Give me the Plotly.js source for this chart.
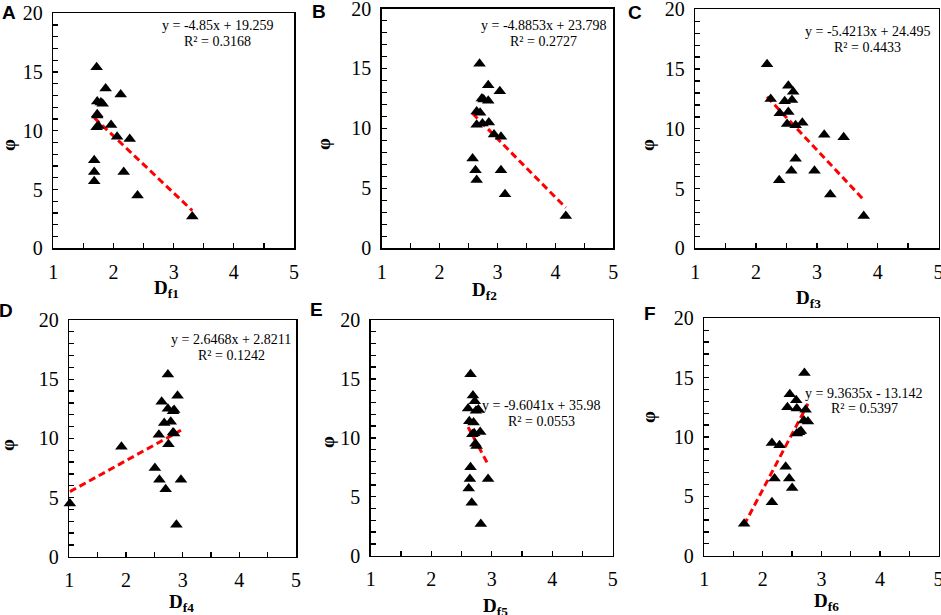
<!DOCTYPE html>
<html>
<head>
<meta charset="utf-8">
<script src="https://cdn.plot.ly/plotly-3.0.1.min.js"></script>
<style>
html,body{margin:0;padding:0;background:#fff;}
#chart{width:941px;height:615px;}
</style>
</head>
<body>
<div id="chart"></div>
<script>
// porosity values (shared by all panels)
var phi = [15.4, 13.6, 13.1, 12.5, 12.4, 12.3, 11.4, 11.3, 10.5, 10.4, 10.3, 9.5, 9.3, 7.5, 6.5, 6.5, 5.7, 4.5, 2.7];
// fractal dimensions for each panel
var df1 = [1.72, 1.87, 2.12, 1.73, 1.79, 1.82, 1.73, 1.73, 1.96, 1.75, 1.72, 2.06, 2.27, 1.68, 1.68, 2.17, 1.68, 2.40, 3.31];
var df2 = [2.69, 2.84, 3.04, 2.73, 2.76, 2.84, 2.64, 2.70, 2.85, 2.74, 2.64, 2.94, 3.06, 2.57, 2.62, 3.06, 2.64, 3.13, 4.18];
var df3 = [2.18, 2.53, 2.61, 2.24, 2.59, 2.47, 2.53, 2.39, 2.76, 2.51, 2.65, 3.12, 3.44, 2.65, 2.58, 2.96, 2.38, 3.22, 3.77];
var df4 = [2.74, 2.91, 2.63, 2.74, 2.85, 2.83, 2.79, 2.675, 2.83, 2.85, 2.58, 2.75, 1.92, 2.51, 2.59, 2.97, 2.70, 1.01, 2.89];
var df5 = [2.65, 2.69, 2.72, 2.61, 2.78, 2.74, 2.63, 2.70, 2.81, 2.71, 2.68, 2.73, 2.75, 2.65, 2.64, 2.94, 2.62, 2.67, 2.82];
var df6 = [2.71, 2.46, 2.57, 2.42, 2.58, 2.73, 2.70, 2.77, 2.65, 2.62, 2.58, 2.155, 2.285, 2.39, 2.20, 2.45, 2.50, 2.155, 1.68];
// linear fit coefficients and R^2 (as printed)
var slopes = [-4.85, -4.8853, -5.4213, 2.6468, -9.6041, 9.3635];
var intercepts = [19.259, 23.798, 24.495, 2.8211, 35.98, -13.142];
var r2 = ["0.3168", "0.2727", "0.4433", "0.1242", "0.0553", "0.5397"];
var panelLabels = ["A", "B", "C", "D", "E", "F"];
var xTitles = ["D<sub>f1</sub>", "D<sub>f2</sub>", "D<sub>f3</sub>", "D<sub>f4</sub>", "D<sub>f5</sub>", "D<sub>f6</sub>"];
var yTitle = "φ";

var dfs = [df1, df2, df3, df4, df5, df6];

// layout geometry (pixels)
var W = 941, H = 615;
var boxes = [ // [left, right, top, bottom]
  [53.3, 294, 13.3, 248.3],
  [381.7, 613.3, 8.5, 248.3],
  [695.3, 938.5, 9.3, 248.3],
  [69.3, 296, 320, 556.7],
  [370.7, 612.7, 320, 555.7],
  [704.3, 938.5, 318.3, 555.7]
];
var eqPos = [ // [cx, y1, y2]
  [217.5, 26, 41.7],
  [543.3, 25, 41.7],
  [867, 31.7, 47.7],
  [231, 339.3, 355.7],
  [541, 405.7, 421.7],
  [864, 393.3, 408.3]
];
var xTitlePos = [[166, 289], [484, 290.5], [808.5, 299], [181, 603], [495.8, 606.5], [826, 602]];
var yTitlePos = [[8, 145], [323, 144], [647, 145], [7, 445], [327, 442], [648, 417]];
var labelPos = [[8.5, 12], [318.5, 11], [634.5, 12], [6, 310], [316, 309], [650, 313]];

var serif = "Liberation Serif";
var traces = [];
var layout = {
  width: W, height: H,
  margin: {l: 0, r: 0, t: 0, b: 0},
  paper_bgcolor: "#fff", plot_bgcolor: "#fff",
  showlegend: false,
  annotations: []
};

function ann(x, y, text, font, angle) {
  return {
    xref: "paper", yref: "paper", x: x / W, y: 1 - y / H,
    xanchor: "center", yanchor: "middle", showarrow: false,
    text: text, font: font, textangle: angle || 0
  };
}

for (var i = 0; i < 6; i++) {
  var n = i + 1;
  var xa = "x" + (n === 1 ? "" : n), ya = "y" + (n === 1 ? "" : n);
  var xs = dfs[i];
  var xmin = Math.min.apply(null, xs), xmax = Math.max.apply(null, xs);
  traces.push({
    x: [xmin, xmax],
    y: [slopes[i] * xmin + intercepts[i], slopes[i] * xmax + intercepts[i]],
    xaxis: xa, yaxis: ya, mode: "lines", type: "scatter",
    line: {color: "#ff0000", width: 3, dash: "7px,4px"},
    hoverinfo: "skip"
  });
  traces.push({
    x: xs, y: phi, xaxis: xa, yaxis: ya, mode: "markers", type: "scatter",
    marker: {symbol: "triangle-up", size: 11, color: "#000"},
    cliponaxis: false
  });
  var b = boxes[i];
  var xk = "xaxis" + (n === 1 ? "" : n), yk = "yaxis" + (n === 1 ? "" : n);
  layout[xk] = {
    domain: [b[0] / W, b[1] / W], anchor: ya,
    range: [1, 5], tick0: 1, dtick: 1,
    ticks: "inside", ticklen: 5, tickwidth: 1.3, tickcolor: "#000",
    minor: {dtick: 0.5, tick0: 1, ticks: "inside", ticklen: 5, tickwidth: 1.3, tickcolor: "#000", showgrid: false},
    showline: true, linecolor: "#000", linewidth: 1.5, mirror: true,
    showgrid: false, zeroline: false, fixedrange: true,
    ticklabelstandoff: 5, ticklabeloverflow: "allow",
    tickfont: {family: serif, size: 20, color: "#000"},
    automargin: false
  };
  layout[yk] = {
    domain: [1 - b[3] / H, 1 - b[2] / H], anchor: xa,
    range: [0, 20], tick0: 0, dtick: 5,
    ticks: "inside", ticklen: 5, tickwidth: 1.3, tickcolor: "#000",
    minor: {dtick: 1, tick0: 0, ticks: "inside", ticklen: 5, tickwidth: 1.3, tickcolor: "#000", showgrid: false},
    showline: true, linecolor: "#000", linewidth: 1.5, mirror: true,
    showgrid: false, zeroline: false, fixedrange: true,
    ticklabelstandoff: 5, ticklabeloverflow: "allow",
    tickfont: {family: serif, size: 20, color: "#000"},
    automargin: false
  };
  var e = eqPos[i];
  var sign = intercepts[i] < 0 ? " - " : " + ";
  var eqFont = {family: serif, size: 14, color: "#000"};
  layout.annotations.push(ann(e[0], e[1], "y = " + String(slopes[i]) + "x" + sign + String(Math.abs(intercepts[i])), eqFont));
  layout.annotations.push(ann(e[0], e[2], "R² = " + r2[i], eqFont));
  var titleFont = {family: serif, size: 19, color: "#000"};
  var tp = xTitlePos[i];
  layout.annotations.push(ann(tp[0], tp[1], "<b>" + xTitles[i] + "</b>", titleFont));
  var yp = yTitlePos[i];
  layout.annotations.push(ann(yp[0], yp[1], "<b>" + yTitle + "</b>", titleFont, -90));
  var lp = labelPos[i];
  layout.annotations.push(ann(lp[0], lp[1], "<b>" + panelLabels[i] + "</b>", {family: "Liberation Sans", size: 19, color: "#000"}));
}

Plotly.newPlot("chart", traces, layout, {displayModeBar: false, staticPlot: true});
</script>
</body>
</html>
